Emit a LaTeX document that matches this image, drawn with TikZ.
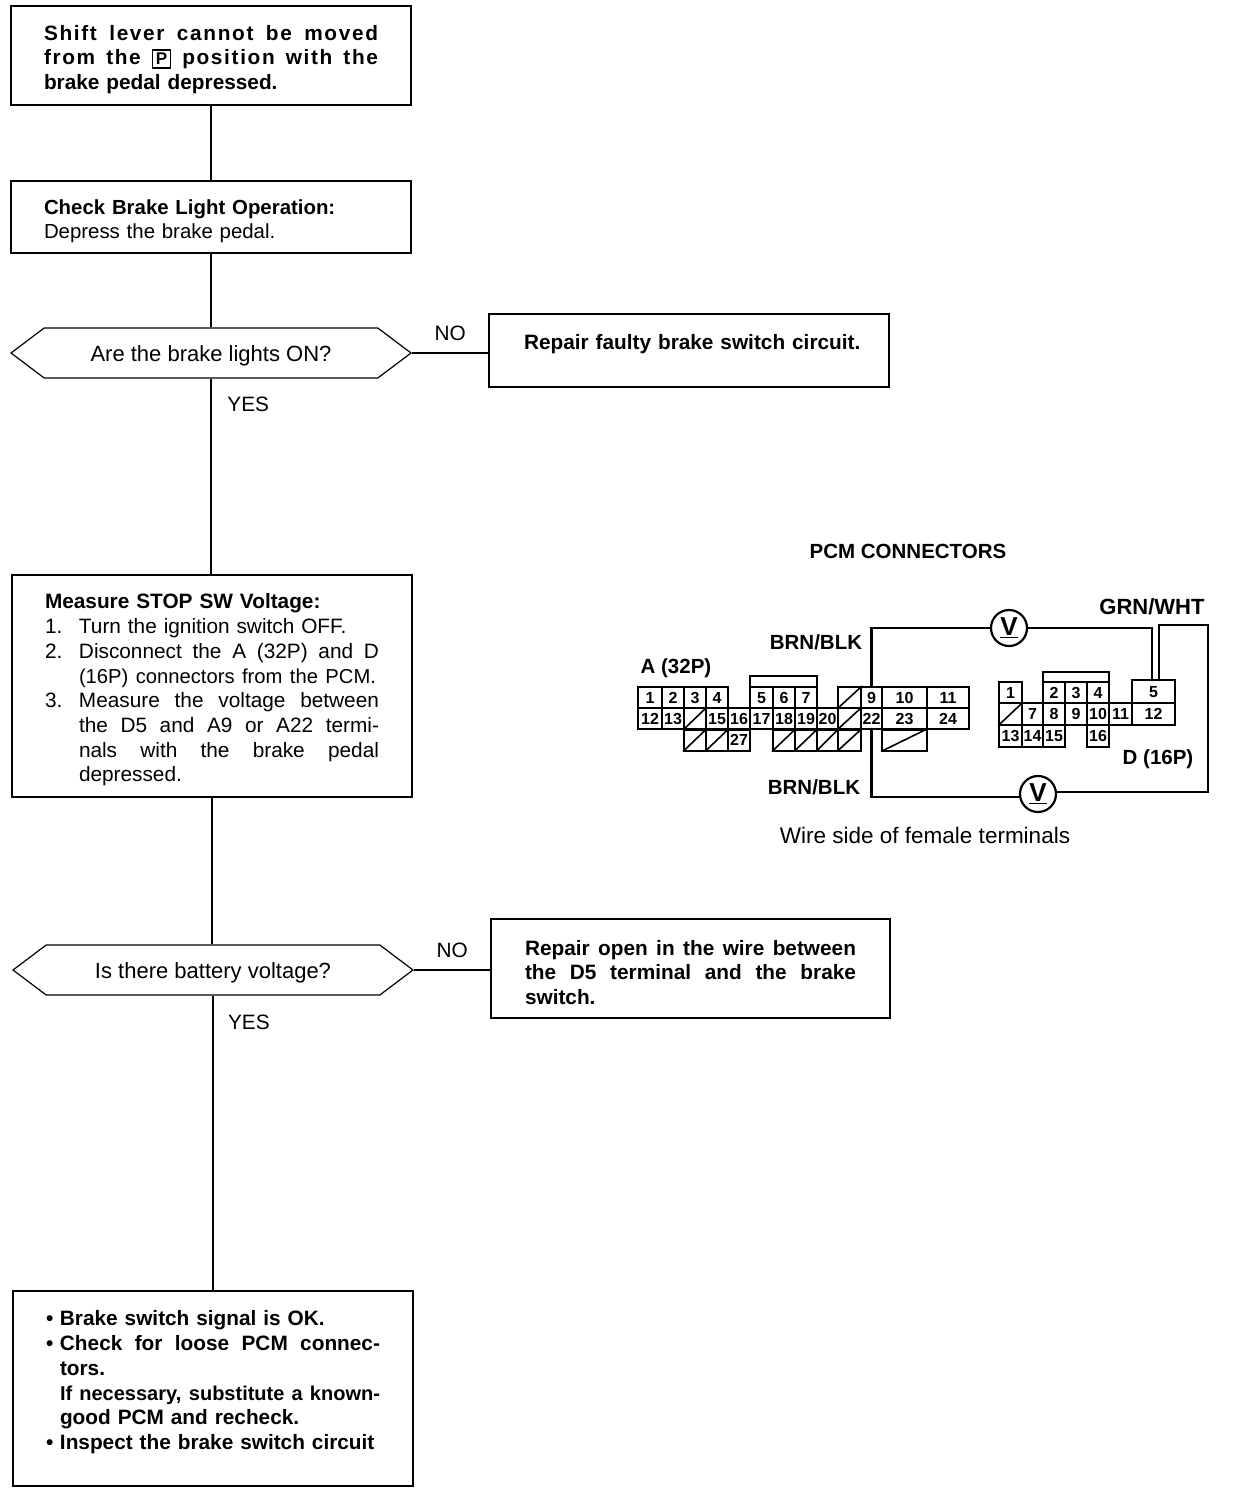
\documentclass[tikz,border=0pt]{standalone}
\usepackage{fontspec}
\setmainfont{Liberation Sans}
\usetikzlibrary{shapes.symbols}
\newcommand{\jl}[2][334pt]{\makebox[#1][s]{\spaceskip=.28em plus 1fil\relax #2}}
\newcommand{\lead}[2][14pt]{\makebox[#1][l]{#2}}
\newcommand{\ltr}{\addfontfeature{LetterSpace=8}}
\newcommand{\topline}{\rule{0pt}{23pt}}
\tikzset{
    every node/.style={font=\fontsize{20.8}{24.7}\selectfont},
    stepbox/.style={draw, line width=1.2pt, inner sep=0pt, text width=334pt, align=left},
    askbox/.style={draw, line width=1.2pt, inner sep=0pt, minimum width=400pt, minimum height=50pt,
        signal, signal to=west and east, signal pointer angle=74, text height=21pt, text depth=5pt,
        font=\fontsize{22}{26}\selectfont},
    flow/.style={line width=1.4pt},
    pin/.style={draw, line width=2pt, inner sep=0pt, text height=11.5pt, text depth=0pt,
        font=\fontsize{16}{16}\selectfont\bfseries},
    wire/.style={line width=2.4pt},
    meter/.style={draw, circle, line width=2.2pt, fill=white, inner sep=0pt, minimum size=36pt,
        font=\fontsize{26}{26}\selectfont\bfseries},
    tag/.style={font=\fontsize{20.5}{24}\selectfont\bfseries}
}
\begin{document}
\begin{tikzpicture}[x=1pt,y=-1pt]
    \useasboundingbox (0,0) rectangle (1232,1494);
    % flow chart
    \node[stepbox, minimum width=400pt, minimum height=99pt] (start) at (211,55.5) {\bfseries\topline
        {\ltr\jl{Shift lever cannot be moved}}\\
        {\ltr\jl{from the {\fboxsep=2.5pt\fboxrule=1.5pt\fbox{\fontsize{17}{17}\selectfont P}} position with the}}\\
        brake pedal depressed.};
    \node[stepbox, minimum width=400pt, minimum height=72pt, font=\fontsize{20.4}{24.7}\selectfont] (check) at (211,217)
        {\topline\textbf{Check Brake Light Operation:}\\ Depress the brake pedal.};
    \node[askbox] (askbrake) at (211,353) {Are the brake lights ON?};
    \node[stepbox, text width=330pt, minimum width=400pt, minimum height=73pt] (fixswitch) at (689,350.5)
        {\topline\lead[330pt]{\textbf{Repair faulty brake switch circuit.}}\\\rule{0pt}{18pt}};
    \node[stepbox, minimum width=400pt, minimum height=222pt] (measure) at (212,686) {\topline
        \textbf{Measure STOP SW Voltage:}\\
        \lead[34pt]{1.}Turn the ignition switch OFF.\\
        \lead[34pt]{2.}\jl[300pt]{Disconnect the A (32P) and D}\\
        \lead[34pt]{}{\fontsize{20.2}{24.7}\selectfont\jl[297pt]{(16P) connectors from the PCM.}}\\
        \lead[34pt]{3.}\jl[300pt]{Measure the voltage between}\\
        \lead[34pt]{}\jl[300pt]{the D5 and A9 or A22 termi-}\\
        \lead[34pt]{}\jl[300pt]{nals with the brake pedal}\\
        \lead[34pt]{}depressed.};
    \node[askbox] (askvolt) at (213,970) {Is there battery voltage?};
    \node[stepbox, text width=331pt, minimum width=399pt, minimum height=99pt] (fixwire) at (690.5,968.5) {\bfseries\topline
        \jl[331pt]{Repair open in the wire between}\\
        \jl[331pt]{the D5 terminal and the brake}\\
        switch.};
    \node[stepbox, minimum width=400pt, minimum height=195pt] (finish) at (213,1388.5) {\bfseries\topline
        \lead{•}Brake switch signal is OK.\\
        \lead{•}\jl[320pt]{Check for loose PCM connec-}\\
        \lead{}tors.\\
        \lead{}{\fontsize{20}{24.7}\selectfont\jl[320pt]{If necessary, substitute a known-}}\\
        \lead{}good PCM and recheck.\\
        \lead{•}Inspect the brake switch circuit\\\rule{0pt}{18pt}};
    \draw[flow] (start) -- (check);
    \draw[flow] (check) -- (askbrake.north);
    \draw[flow, line width=2.2pt] (askbrake.south) -- node[pos=0.13, right=12pt] (yesone) {YES} (askbrake.south |- measure.north);
    \draw[flow] (askbrake.east) -- node[above=8pt] (noone) {NO} (fixswitch.west |- askbrake);
    \draw[flow] (measure.south) -- (measure.south |- askvolt.north);
    \draw[flow] (askvolt.south) -- node[pos=0.09, right=11pt] (yestwo) {YES} (askvolt.south |- finish.north);
    \draw[flow] (askvolt.east) -- node[above=8pt] (notwo) {NO} (fixwire.west |- askvolt);
    % connector A
    \node[tag] (pcmtitle) at (908,551) {PCM CONNECTORS};
    \node[tag] (atitle) at (676,668) {A (32P)};
    \draw[pin] (750,687) -- (750,676) -- (817,676) -- (817,687);
    \foreach \name/\x/\w/\y in {
        1/650/24/697.5, 2/673/22/697.5, 3/695/22/697.5, 4/717/22/697.5,
        5/761.5/23/697.5, 6/784/22/697.5, 7/806/22/697.5,
        9/871.5/21/697.5, 10/904.5/45/697.5, 11/948/42/697.5,
        12/650/24/718.5, 13/673/22/718.5, 15/717/22/718.5, 16/739/22/718.5,
        17/761.5/23/718.5, 18/784/22/718.5, 19/806/22/718.5, 20/827.5/21/718.5,
        22/871.5/21/718.5, 23/904.5/45/718.5, 24/948/42/718.5, 27/739/22/740}
        \node[pin, minimum width=\w pt, minimum height=21pt] (a\name) at (\x,\y) {\name};
    \foreach \name/\x/\w/\y in {
        s3/695/22/718.5, s9/849.5/23/697.5, s21/849.5/23/718.5,
        s25/695/22/740, s26/717/22/740, s28/784/22/740, s29/806/22/740,
        s30/827.5/21/740, s31/849.5/23/740, s32/904.5/45/740} {
        \node[pin, minimum width=\w pt, minimum height=21pt] (a\name) at (\x,\y) {};
        \draw[line width=1.6pt] (a\name.south west) -- (a\name.north east);
    }
    % connector D
    \node[tag] (dtitle) at (1158,759) {D (16P)};
    \draw[pin] (1043,682) -- (1043,672) -- (1109,672) -- (1109,682);
    \foreach \name/\x/\w/\y in {
        1/1010.5/23/692.5, 2/1054/22/692.5, 3/1076/22/692.5, 4/1098/22/692.5,
        7/1032.5/21/714, 8/1054/22/714, 9/1076/22/714, 10/1098/22/714, 11/1120.5/23/714,
        13/1010.5/23/736, 14/1032.5/21/736, 15/1054/22/736, 16/1098/22/736}
        \node[pin, minimum width=\w pt, minimum height=21.5pt] (d\name) at (\x,\y) {\name};
    \node[pin, minimum width=43pt, minimum height=23pt] (d5) at (1153.5,691.5) {5};
    \node[pin, minimum width=43pt, minimum height=22pt] (d12) at (1153.5,714) {12};
    \node[pin, minimum width=23pt, minimum height=21.5pt] (dslash) at (1010.5,714) {};
    \draw[line width=1.6pt] (dslash.south west) -- (dslash.north east);
    % meter wires
    \node[meter] (vtop) at (1009,628) {\underline{V}};
    \node[meter] (vbot) at (1038,794) {\underline{V}};
    \coordinate (wireright) at (1208,625);
    \coordinate (wirecorner) at (1208,792);
    \draw[wire] (a9.north) |- (vtop);
    \draw[wire] (vtop) -| ([xshift=-1.5pt]d5.north);
    \draw[wire] ([xshift=5.5pt]d5.north) |- (wireright) -- (wirecorner) -- ([yshift=2pt]vbot.east);
    \draw[wire] ([yshift=-3pt]vbot.west) -| (a22.south);
    \node[tag] (brntop) at (816,642) {BRN/BLK};
    \node[tag] (brnbot) at (814,787) {BRN/BLK};
    \node[tag, font=\fontsize{22}{24}\selectfont\bfseries] (grntitle) at (1152,607) {GRN/WHT};
    \node[font=\fontsize{22.5}{26}\selectfont] (wireside) at (925,835) {Wire side of female terminals};
\end{tikzpicture}
\end{document}
